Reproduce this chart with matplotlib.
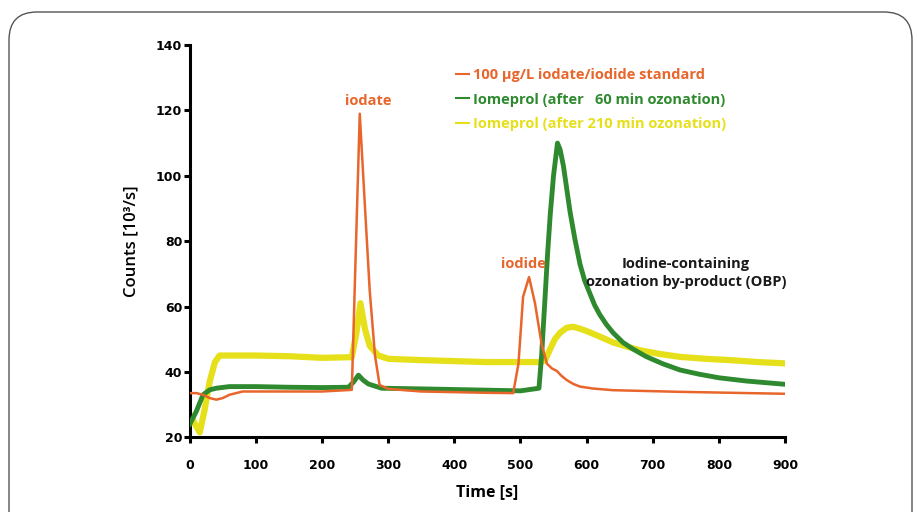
import matplotlib
matplotlib.use("Agg")
import matplotlib.pyplot as plt
from matplotlib.patches import FancyBboxPatch

plt.rcParams['font.family'] = ['Open Sans', 'DejaVu Sans']

# 100 ug/L iodate/iodide standard (orange)
t_std = [0, 10, 20, 30, 40, 50, 60, 80, 120, 200, 245, 250, 257, 265, 272, 280, 287, 300, 350, 400, 450, 489,
         497, 504, 513, 522, 532, 540, 548, 555, 562, 570, 580, 590, 610, 640, 740, 820, 900]
v_std = [33.5, 33.5, 33, 32, 31.5, 32, 33, 34, 34, 34, 34.5, 70, 119, 90, 65, 45, 36, 34.8, 34, 33.8, 33.6, 33.5,
         42.5, 63, 69, 61, 48.5, 42.5, 41, 40.3, 38.8, 37.5, 36.3, 35.5, 34.9, 34.4, 33.9, 33.6, 33.3]

# Iomeprol after 60 min ozonation (green)
t_60 = [0, 5, 10, 20, 30, 40, 60, 100, 150, 200, 240, 248, 255, 262, 270, 290, 350, 400, 450, 500, 528,
        532, 537, 541, 545, 550, 556, 560, 565, 570, 575, 582, 590, 597, 605, 612, 620, 630, 640, 655,
        670, 690, 715, 741, 770, 800, 842, 900]
v_60 = [24, 26, 28, 33, 34.5, 35, 35.5, 35.5, 35.3, 35.2, 35.3, 37, 39, 37.5, 36.3, 35, 34.8, 34.6, 34.4, 34.2, 35,
        45, 62, 76, 88, 100, 110, 108, 103, 96, 89, 81, 73, 68, 64, 60.5, 57.5, 54.5, 52, 49,
        47, 44.7, 42.5, 40.6, 39.3, 38.2, 37.2, 36.2]

# Iomeprol after 210 min ozonation (yellow)
t_210 = [0, 8, 15, 22, 30, 38, 45, 100, 150, 200, 245, 252, 258, 265, 272, 285, 300, 350, 400, 450, 530,
         537, 545, 552, 560, 570, 580, 590, 600, 620, 640, 660, 681, 710, 741, 780, 817, 860, 900]
v_210 = [27, 24, 21.5, 28, 37, 43, 45, 45, 44.8, 44.3, 44.5, 52, 61, 53, 48, 45, 44, 43.6, 43.3, 43, 43,
         43.5, 47, 50, 52, 53.5, 53.8, 53.2, 52.5, 50.8, 49, 47.8, 46.6, 45.5, 44.6, 44, 43.6, 43, 42.6]

labels = ['100 µg/L iodate/iodide standard',
          'Iomeprol (after   60 min ozonation)',
          'Iomeprol (after 210 min ozonation)']
colors = ['#E8652B', '#2F8A2F', '#E6E01A']

fig = plt.figure(figsize=(9.17, 5.12), dpi=100)
ax = fig.add_axes([0.207, 0.146, 0.649, 0.766])

# rounded frame around the figure
frame = FancyBboxPatch((0.09, -0.5), 9.03, 5.5, boxstyle="round,pad=0,rounding_size=0.28",
                       transform=fig.dpi_scale_trans, fill=False, edgecolor='#555555', linewidth=1.0)
fig.patches.append(frame)

ax.plot(t_210, v_210, color=colors[2], lw=4.5, label=labels[2], zorder=2)
ax.plot(t_60, v_60, color=colors[1], lw=3.5, label=labels[1], zorder=3)
ax.plot(t_std, v_std, color=colors[0], lw=1.8, label=labels[0], zorder=4)

ax.set_xlim(0, 900)
ax.set_ylim(20, 140)
ax.set_xticks(range(0, 901, 100))
ax.set_yticks(range(20, 141, 20))
for s in ['top', 'right']:
    ax.spines[s].set_visible(False)
for s in ['left', 'bottom']:
    ax.spines[s].set_linewidth(2.2)
ax.tick_params(direction='out', length=4, width=2.2)
ax.tick_params(axis='x', pad=12)
ax.tick_params(axis='y', pad=1.5)
for lab in ax.get_xticklabels() + ax.get_yticklabels():
    lab.set_fontfamily('DejaVu Sans')
    lab.set_fontweight('bold')
    lab.set_fontsize(9)

ax.set_xlabel('Time [s]', fontsize=11.5, fontweight='bold', labelpad=8)
ax.set_ylabel('Counts [10³/s]', fontsize=12, fontweight='semibold', labelpad=12)

handles, labs = ax.get_legend_handles_labels()
order = [2, 1, 0]
leg = ax.legend([handles[i] for i in order], [labs[i] for i in order],
                loc='upper left', bbox_to_anchor=(0.435, 0.96), frameon=False,
                handlelength=0.9, handletextpad=0.3, labelspacing=0.72, borderpad=0,
                prop={'size': 10.5, 'weight': 'bold'}, labelcolor='linecolor')
for h in leg.get_lines():
    h.set_linewidth(1.5)

ax.text(270, 123, 'iodate', color=colors[0], fontsize=10.5, fontweight='bold', ha='center', va='center')
ax.text(504, 73, 'iodide', color=colors[0], fontsize=10.5, fontweight='bold', ha='center', va='center')
ax.text(750, 70.3, 'Iodine-containing\nozonation by-product (OBP)', color='#1a1a1a', fontsize=10.5,
        fontweight='bold', ha='center', va='center', linespacing=1.35)

fig.savefig('out.png', dpi=100)
